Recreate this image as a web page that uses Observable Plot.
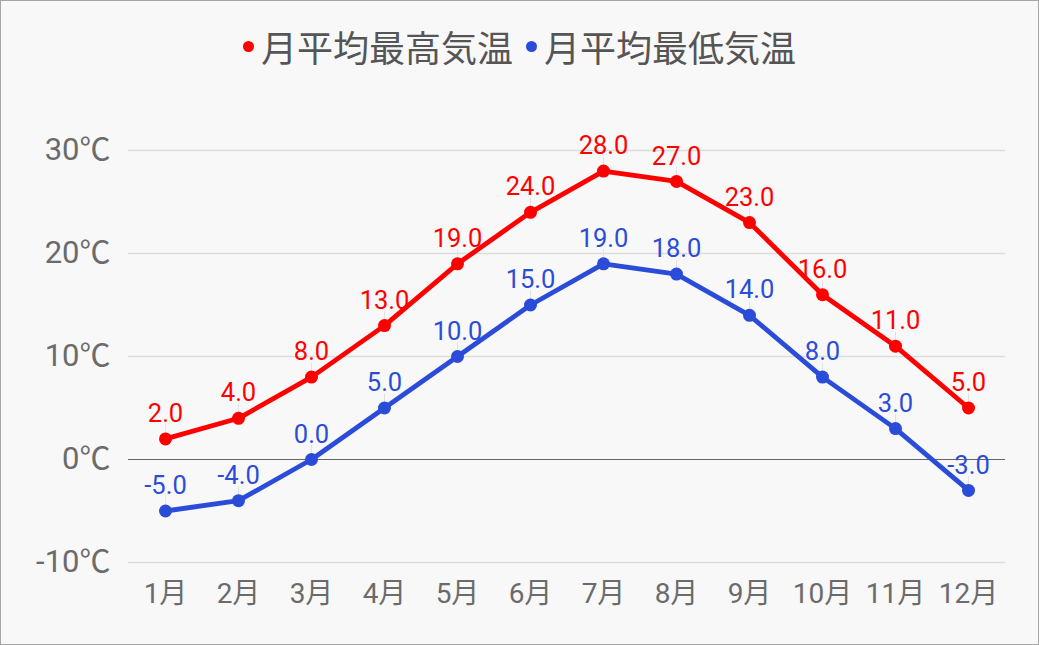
<!DOCTYPE html>
<html><head><meta charset="utf-8">
<script src="https://cdn.jsdelivr.net/npm/d3@7"></script>
<script src="https://cdn.jsdelivr.net/npm/@observablehq/plot@0.6"></script>
<style>
html,body{margin:0;padding:0;background:#fff;}
#wrap{width:1037px;height:643px;border:1px solid #a6a6a6;background:#f8f8f8;font-family:Roboto,"Noto Sans CJK JP",sans-serif;overflow:hidden;}
#legend{height:94px;display:flex;justify-content:center;align-items:center;gap:13px;font-size:36px;color:#555;font-family:"Noto Sans CJK JP",Roboto,sans-serif;padding-bottom:4px;box-sizing:border-box;}
#legend span.item{display:flex;align-items:center;gap:7px;}
#legend .dot{width:11px;height:11px;border-radius:50%;display:inline-block;}
</style></head>
<body><div id="wrap"><div id="legend"></div><div id="chart"></div></div>
<script>
const months = ["1月","2月","3月","4月","5月","6月","7月","8月","9月","10月","11月","12月"];
const highs = [2,4,8,13,19,24,28,27,23,16,11,5];
const lows = [-5,-4,0,5,10,15,19,18,14,8,3,-3];
const seriesNames = ["月平均最高気温","月平均最低気温"];
const colors = ["#ff0000","#2b4cd8"];
const yTicks = [-10,0,10,20,30];

const legend = document.getElementById("legend");
seriesNames.forEach((n,i)=>{
  const s=document.createElement("span");s.className="item";
  s.innerHTML=`<span class="dot" style="background:${colors[i]}"></span><span>${n}</span>`;
  legend.appendChild(s);
});

const data = [];
months.forEach((m,i)=>{
  data.push({month:m,value:highs[i],series:seriesNames[0]});
  data.push({month:m,value:lows[i],series:seriesNames[1]});
});

const chart = Plot.plot({
  width:1037, height:549,
  marginLeft:127, marginRight:33, marginTop:55, marginBottom:82,
  style:{background:"transparent",fontFamily:'Roboto,"Noto Sans CJK JP",sans-serif'},
  x:{type:"point",domain:months,padding:0.5,label:null},
  y:{domain:[-10,30],label:null},
  color:{domain:seriesNames,range:colors},
  marks:[
    Plot.ruleY(yTicks.filter(d=>d!==0),{stroke:"#dcdcdc",strokeWidth:1.3}),
    Plot.ruleY([0],{stroke:"#666",strokeWidth:1.2}),
    Plot.axisY(yTicks,{tickSize:0,tickPadding:18,fontSize:31,fill:"#6b6b6b",tickFormat:d=>d+"℃",label:null}),
    Plot.axisX({tickSize:0,tickPadding:21,fontSize:28,fill:"#6b6b6b",label:null}),
    Plot.vector(data,{x:"month",y:"value",length:14,rotate:0,anchor:"start",stroke:"#e2e2e2",strokeWidth:1,shape:{draw(ctx,l){ctx.moveTo(0,0);ctx.lineTo(0,-l);}}}),
    Plot.line(data,{x:"month",y:"value",z:"series",stroke:"series",strokeWidth:4.8}),
    Plot.dot(data,{x:"month",y:"value",fill:"series",r:6.5}),
    Plot.text(data,{x:"month",y:"value",text:d=>d.value.toFixed(1),fill:"series",dy:-25,fontSize:25.5})
  ]
});
chart.querySelectorAll("g[aria-label='y-axis tick label'] text").forEach(t=>{
  const s=t.textContent;
  if(s.endsWith("℃")){
    t.textContent=s.slice(0,-1);
    const ts=document.createElementNS("http://www.w3.org/2000/svg","tspan");
    ts.setAttribute("font-family",'"Noto Sans CJK JP"');
    ts.textContent="℃";
    t.appendChild(ts);
  }
});
document.getElementById("chart").appendChild(chart);
</script></body></html>
